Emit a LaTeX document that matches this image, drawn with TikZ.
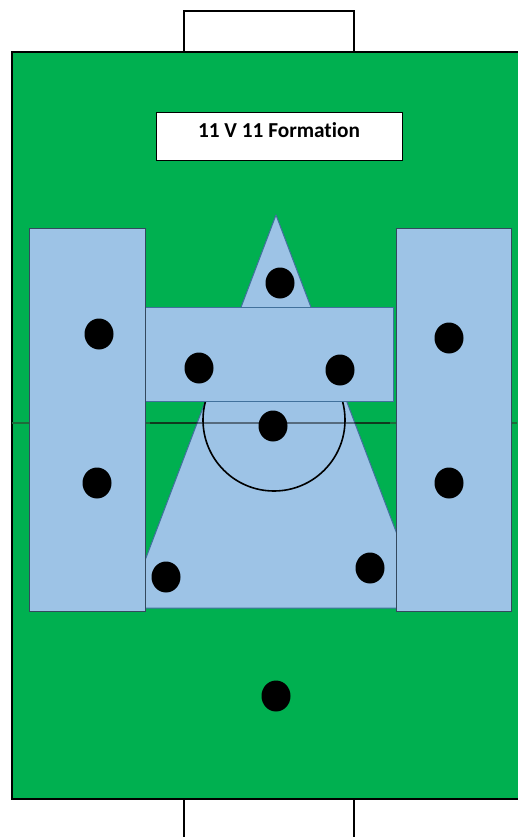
\documentclass[tikz,border=0pt]{standalone}
\usetikzlibrary{shapes.geometric}
\usepackage{fontspec}
\setmainfont{Carlito}[Ligatures=NoCommon]
\definecolor{pitch}{HTML}{00B050}
\definecolor{zone}{HTML}{9DC3E6}
\definecolor{zoneedge}{HTML}{41719C}
\definecolor{sideedge}{HTML}{34495E}
\definecolor{lineg}{HTML}{1E6B3A}
\begin{document}
\begin{tikzpicture}[x=1pt,y=-1pt,
  goalbox/.style={draw=black,line width=2.2pt,fill=white},
  zonebox/.style={draw=zoneedge,line width=1pt,fill=zone},
  sidebox/.style={draw=sideedge,line width=1pt,fill=zone},
  player/.style={fill=black,draw=none,ellipse,minimum width=29pt,minimum height=31pt,inner sep=0pt},
  title/.style={draw=black,line width=1pt,fill=white,minimum width=246pt,minimum height=48pt,inner sep=0pt},
  titletext/.style={inner sep=0pt,font=\fontsize{21.3}{24}\selectfont\bfseries}]
\useasboundingbox (0,0) rectangle (517,837);
% goals
\draw[goalbox] (184,11) rectangle (354,60) coordinate (gt);
\draw[goalbox] (184,790) rectangle (354,845) coordinate (gb);
% pitch
\draw[fill=pitch,draw=black,line width=2.2pt] (12,52) rectangle (530,799);
% halfway line
\draw[lineg,line width=2pt] (12,423) -- (517,423);
% triangle
\draw[zonebox,line join=round] (276,215) -- (425,608) -- (127,608) -- cycle;
% halfway line over triangle
\draw[black,opacity=0.45,line width=1.5pt] (150,423) -- (390,423);
% centre circle
\draw[black,line width=1.6pt] (274,420) circle (71);
% midfield bar
\draw[zonebox] (141,307) rectangle (393,401);
% wing boxes
\draw[sidebox] (29,228) rectangle (145,611);
\draw[sidebox] (396,228) rectangle (511,611);
% title
\node[title] (t) at (279,137) {};
\node[titletext,anchor=base] (tt) at (279,138) {11 V 11 Formation};
% players
\node[player] (p1) at (280,283) {};
\node[player] (p2) at (99,334) {};
\node[player] (p3) at (449,338) {};
\node[player] (p4) at (199,368) {};
\node[player] (p5) at (340,370) {};
\node[player] (p6) at (273,426) {};
\node[player] (p7) at (97,483) {};
\node[player] (p8) at (449,483) {};
\node[player] (p9) at (166,577) {};
\node[player] (p10) at (370,568) {};
\node[player] (gk) at (276,696) {};
\end{tikzpicture}
\end{document}
